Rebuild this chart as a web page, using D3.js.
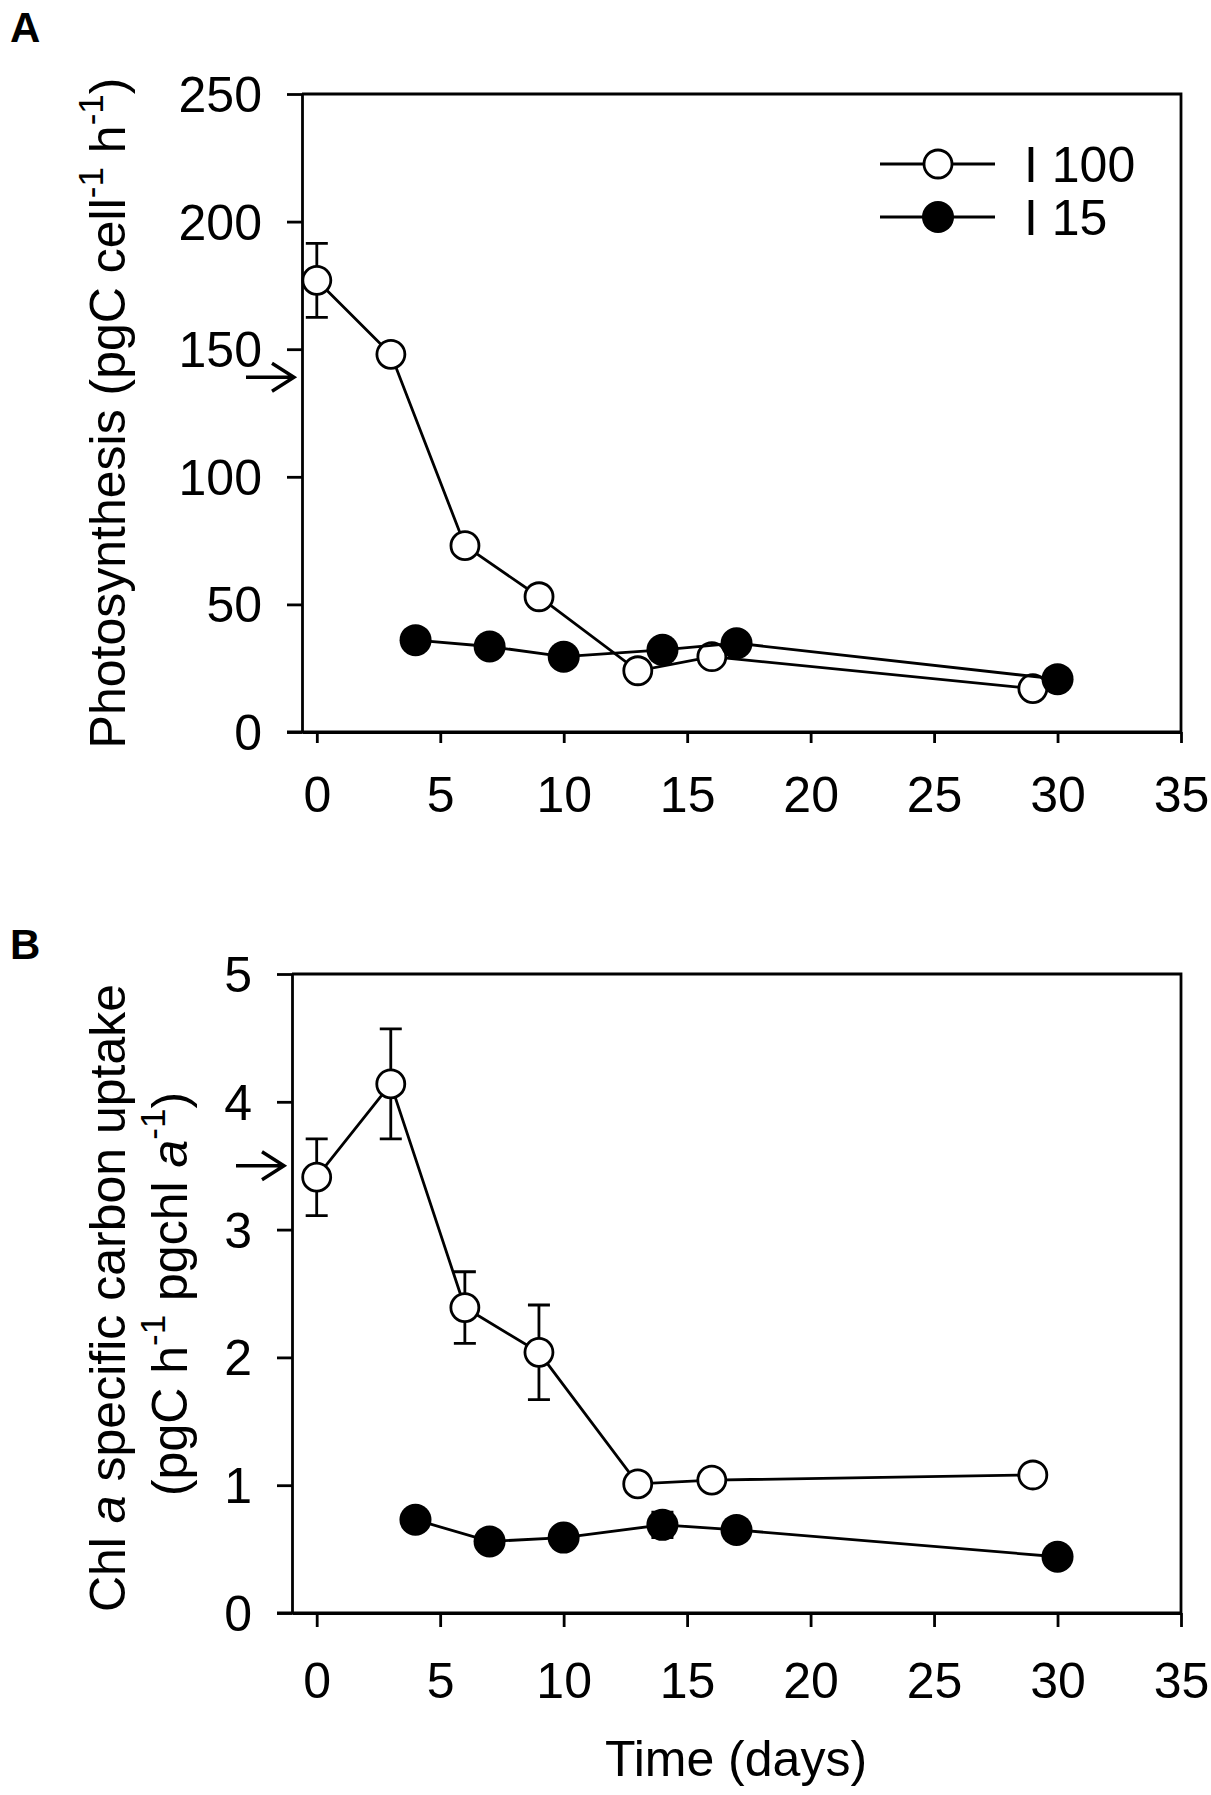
<!DOCTYPE html>
<html>
<head>
<meta charset="utf-8">
<script src="https://cdn.jsdelivr.net/npm/d3@7"></script>
<style>
  body { margin: 0; background: #fff; }
  svg { display: block; }
  text { font-family: "Liberation Sans", Arial, sans-serif; fill: #000; }
</style>
</head>
<body>
<svg id="chart" width="1211" height="1795"></svg>
<script>
/*
  Two stacked panels: photosynthesis per cell (A) and chl a specific
  carbon uptake (B) over time for the I 100 and I 15 treatments.
*/

// ---- data ----
var xTicks = [0, 5, 10, 15, 20, 25, 30, 35];
var photoTicks = [0, 50, 100, 150, 200, 250];
var chlTicks = [0, 1, 2, 3, 4, 5];

var daysI100 = [0, 3, 6, 9, 13, 16, 29];
var daysI15 = [4, 7, 10, 14, 17, 30];

var photoI100 = [177, 148, 73, 53, 24, 29.5, 17];
var photoI100Err = [14.5, 0, 0, 0, 0, 0, 0];
var photoI15 = [36, 33.5, 29.5, 32.2, 34.8, 20.7];
var photoI15Err = [0, 0, 0, 0, 0, 0];

var chlI100 = [3.41, 4.14, 2.39, 2.04, 1.01, 1.04, 1.08];
var chlI100Err = [0.30, 0.43, 0.28, 0.37, 0, 0, 0];
var chlI15 = [0.73, 0.56, 0.59, 0.69, 0.65, 0.44];
var chlI15Err = [0, 0, 0, 0.1, 0, 0];

var photoArrow = 139;   // value marked by the arrow on the y axis
var chlArrow = 3.5;

var legendNames = ["I 100", "I 15"];

// ---- helpers ----
var svg = d3.select("#chart");
var LW = 2.8;

function zip(days, vals, errs) {
  return days.map(function(d, i) { return { x: d, y: vals[i], e: errs[i] }; });
}

function drawPanel(cfg) {
  var g = svg.append("g");
  var x = d3.scaleLinear().domain(cfg.xDomain).range([cfg.left, cfg.right]);
  var y = d3.scaleLinear().domain(cfg.yDomain).range([cfg.bottom, cfg.top]);

  // frame (top + right)
  g.append("path")
    .attr("d", "M" + cfg.left + "," + cfg.top + "H" + cfg.right + "V" + cfg.bottom)
    .attr("fill", "none").attr("stroke", "#000").attr("stroke-width", LW);

  var yAxis = g.append("g")
    .attr("transform", "translate(" + cfg.left + ",0)")
    .call(d3.axisLeft(y).tickValues(cfg.yTicks).tickFormat(d3.format("d"))
      .tickSize(15).tickSizeOuter(0).tickPadding(25));
  yAxis.selectAll("text").attr("font-size", 50).attr("dy", "0.35em");

  var xAxis = g.append("g")
    .attr("transform", "translate(0," + cfg.bottom + ")")
    .call(d3.axisBottom(x).tickValues(xTicks).tickFormat(d3.format("d"))
      .tickSize(cfg.xTick).tickSizeOuter(0).tickPadding(cfg.xPad));
  xAxis.selectAll("text").attr("font-size", 50);

  [yAxis, xAxis].forEach(function(a) {
    a.select(".domain").attr("stroke-width", LW);
    a.selectAll(".tick line").attr("stroke-width", LW);
    a.attr("font-family", null);
  });
  // let the x axis line run out to the left tick marks
  g.append("path")
    .attr("d", "M" + (cfg.left - 15) + "," + cfg.bottom + "H" + cfg.right)
    .attr("stroke", "#000").attr("stroke-width", LW);

  // arrow on the y axis
  var ay = y(cfg.arrow);
  g.append("path")
    .attr("d", "M" + (cfg.left - 56) + "," + ay + "H" + (cfg.left - 8) +
               "M" + (cfg.left - 30) + "," + (ay - 14) + "L" + (cfg.left - 8) + "," + ay +
               "L" + (cfg.left - 30) + "," + (ay + 14))
    .attr("fill", "none").attr("stroke", "#000").attr("stroke-width", 3.4);

  var line = d3.line().x(function(d) { return x(d.x); }).y(function(d) { return y(d.y); });

  cfg.series.forEach(function(s) {
    var pts = s.data;
    g.append("path").datum(pts)
      .attr("d", line)
      .attr("fill", "none").attr("stroke", "#000").attr("stroke-width", LW);

    var eb = pts.filter(function(d) { return d.e > 0; });
    g.selectAll(null).data(eb).enter().append("path")
      .attr("d", function(d) {
        var cx = x(d.x), t = y(d.y + d.e), b = y(d.y - d.e);
        return "M" + cx + "," + t + "V" + b +
               "M" + (cx - 11) + "," + t + "H" + (cx + 11) +
               "M" + (cx - 11) + "," + b + "H" + (cx + 11);
      })
      .attr("fill", "none").attr("stroke", "#000").attr("stroke-width", LW);

    g.selectAll(null).data(pts).enter().append("circle")
      .attr("cx", function(d) { return x(d.x); })
      .attr("cy", function(d) { return y(d.y); })
      .attr("r", s.open ? 14 : 16)
      .attr("fill", s.open ? "#fff" : "#000")
      .attr("stroke", "#000").attr("stroke-width", s.open ? LW : 0);
  });

  return g;
}

// ---- panel A ----
var gA = drawPanel({
  left: 302, right: 1181, top: 94, bottom: 732,
  xDomain: [-0.6, 35], yDomain: [0, 250], yTicks: photoTicks,
  xTick: 11, xPad: 33, arrow: photoArrow,
  series: [
    { open: true, data: zip(daysI100, photoI100, photoI100Err) },
    { open: false, data: zip(daysI15, photoI15, photoI15Err) }
  ]
});

svg.append("text").attr("x", 10).attr("y", 42)
  .attr("font-size", 42).attr("font-weight", "bold").text("A");

var yl = svg.append("text")
  .attr("transform", "translate(125,413) rotate(-90)")
  .attr("text-anchor", "middle").attr("font-size", 50);
yl.append("tspan").text("Photosynthesis (pgC cell");
yl.append("tspan").attr("font-size", 35).attr("dy", -22).text("-1");
yl.append("tspan").attr("dy", 22).text(" h");
yl.append("tspan").attr("font-size", 35).attr("dy", -22).text("-1");
yl.append("tspan").attr("dy", 22).text(")");

// legend
var legY = [164, 217];
legendNames.forEach(function(name, i) {
  svg.append("line")
    .attr("x1", 880).attr("x2", 995).attr("y1", legY[i]).attr("y2", legY[i])
    .attr("stroke", "#000").attr("stroke-width", LW);
  svg.append("circle")
    .attr("cx", 938).attr("cy", legY[i]).attr("r", i === 0 ? 14 : 16)
    .attr("fill", i === 0 ? "#fff" : "#000")
    .attr("stroke", "#000").attr("stroke-width", i === 0 ? LW : 0);
  svg.append("text")
    .attr("x", 1024).attr("y", legY[i]).attr("dy", "0.36em")
    .attr("font-size", 50).text(name);
});

// ---- panel B ----
var gB = drawPanel({
  left: 292, right: 1181, top: 974, bottom: 1613,
  xDomain: [-1, 35], yDomain: [0, 5], yTicks: chlTicks,
  xTick: 14, xPad: 35, arrow: chlArrow,
  series: [
    { open: true, data: zip(daysI100, chlI100, chlI100Err) },
    { open: false, data: zip(daysI15, chlI15, chlI15Err) }
  ]
});

svg.append("text").attr("x", 10).attr("y", 959)
  .attr("font-size", 42).attr("font-weight", "bold").text("B");

var yl1 = svg.append("text")
  .attr("transform", "translate(125,1298) rotate(-90)")
  .attr("text-anchor", "middle").attr("font-size", 50);
yl1.append("tspan").text("Chl ");
yl1.append("tspan").attr("font-style", "italic").text("a");
yl1.append("tspan").text(" specific carbon uptake");

var yl2 = svg.append("text")
  .attr("transform", "translate(187,1294) rotate(-90)")
  .attr("text-anchor", "middle").attr("font-size", 50);
yl2.append("tspan").text("(pgC h");
yl2.append("tspan").attr("font-size", 35).attr("dy", -22).text("-1");
yl2.append("tspan").attr("dy", 22).text(" pgchl ");
yl2.append("tspan").attr("font-style", "italic").text("a");
yl2.append("tspan").attr("font-size", 35).attr("dy", -22).text("-1");
yl2.append("tspan").attr("dy", 22).text(")");

svg.append("text")
  .attr("x", 736).attr("y", 1776)
  .attr("text-anchor", "middle").attr("font-size", 50)
  .text("Time (days)");
</script>
</body>
</html>
